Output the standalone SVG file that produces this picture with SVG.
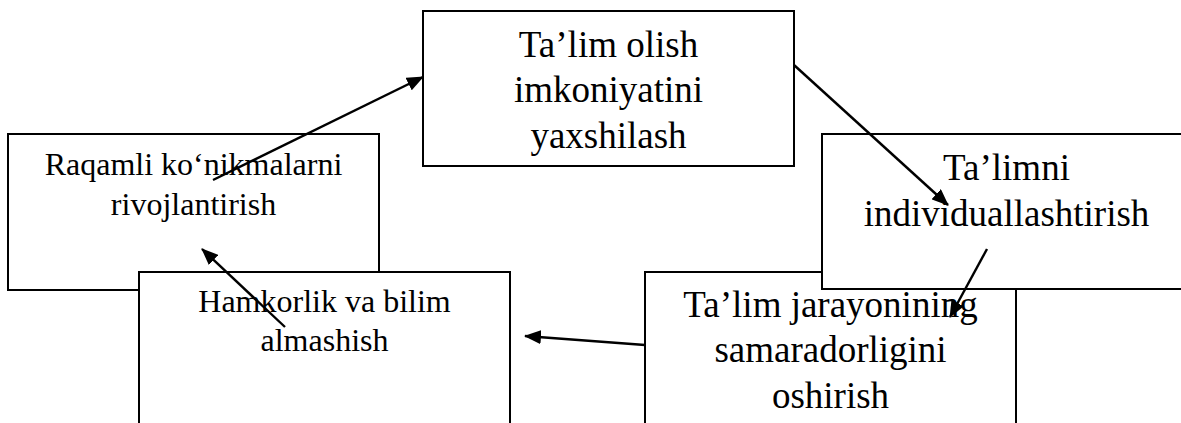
<svg xmlns="http://www.w3.org/2000/svg" width="1181" height="423" viewBox="0 0 1181 423">
<style>
.box{fill:#fff;stroke:#000;stroke-width:2}
.t{font-family:"Liberation Serif","Times New Roman",serif;fill:#000;text-anchor:middle}
.big{font-size:37px}
.sm{font-size:32px}
.arr{stroke:#000;stroke-width:2.4;fill:none;marker-end:url(#ah)}
</style>
<defs>
<marker id="ah" markerUnits="userSpaceOnUse" markerWidth="18" markerHeight="14" refX="16" refY="7" orient="auto">
<path d="M0,0 L17,7 L0,14 Z" fill="#000"/>
</marker>
</defs>
<rect width="1181" height="423" fill="#fff"/>
<g id="node-raqamli">
<rect class="box" x="8" y="134" width="371" height="156"/>
<text class="t sm" x="193.5" y="175">Raqamli ko‘nikmalarni</text>
<text class="t sm" x="193.5" y="215">rivojlantirish</text>
</g>
<g id="node-samaradorlik">
<rect class="box" x="645" y="272" width="371" height="170"/>
<text class="t big" x="830.5" y="317">Ta’lim jarayonining</text>
<text class="t big" x="830.5" y="362">samaradorligini</text>
<text class="t big" x="830.5" y="408">oshirish</text>
</g>
<g id="node-hamkorlik">
<rect class="box" x="139" y="272" width="371" height="170"/>
<text class="t sm" x="324.5" y="312">Hamkorlik va bilim</text>
<text class="t sm" x="324.5" y="351">almashish</text>
</g>
<g id="node-individual">
<rect class="box" x="822" y="134" width="370" height="155"/>
<text class="t big" x="1006.5" y="180">Ta’limni</text>
<text class="t big" x="1006.5" y="226">individuallashtirish</text>
</g>
<g id="node-imkoniyat">
<rect class="box" x="423" y="11" width="371" height="155"/>
<text class="t big" x="608.5" y="57">Ta’lim olish</text>
<text class="t big" x="608.5" y="102">imkoniyatini</text>
<text class="t big" x="608.5" y="148">yaxshilash</text>
</g>
<g id="connectors">
<line class="arr" x1="213" y1="180" x2="423" y2="77"/>
<line class="arr" x1="794" y1="65" x2="948" y2="205"/>
<line class="arr" x1="987" y1="249" x2="950" y2="317"/>
<line class="arr" x1="645" y1="345" x2="525" y2="336"/>
<line class="arr" x1="285" y1="327" x2="202" y2="249"/>
</g>
</svg>
